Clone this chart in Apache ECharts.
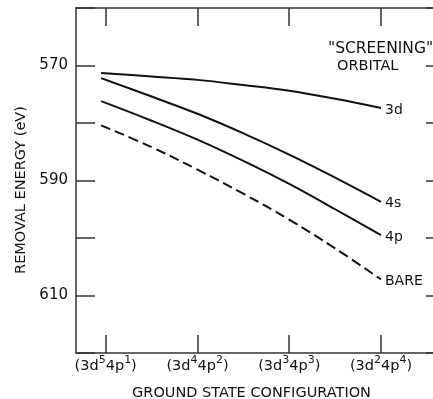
<!DOCTYPE html>
<html>
<head>
<meta charset="utf-8">
<script src="https://cdn.jsdelivr.net/npm/echarts@6/dist/echarts.min.js"></script>
<style>
html,body{margin:0;padding:0;background:#fff;}
#c{width:433px;height:399px;}
</style>
</head>
<body>
<div id="c"></div>
<script>
// Category positions (configurations) and tick labels
var configPositions = [1, 2, 3, 4];
var configLabels = ['(3d{s|5}4p{s|1})', '(3d{s|4}4p{s|2})', '(3d{s|3}4p{s|3})', '(3d{s|2}4p{s|4})'];
var yLabelValues = [570, 590, 610];

// Removal energy (eV): [configuration position, energy]
var series3d   = [[0.95, 571.3], [1.5, 571.9], [2, 572.5], [2.5, 573.4], [3, 574.4], [3.5, 575.8], [4, 577.4]];
var series4s   = [[0.95, 572.2], [1.5, 575.4], [2, 578.4], [2.5, 581.8], [3, 585.5], [3.5, 589.5], [4, 593.7]];
var series4p   = [[0.95, 576.2], [1.5, 579.6], [2, 582.9], [2.5, 586.6], [3, 590.6], [3.5, 595.0], [4, 599.5]];
var seriesBare = [[0.95, 580.4], [1.5, 584.2], [2, 588.1], [2.5, 592.3], [3, 596.8], [3.5, 601.8], [4, 607.2]];

var FONT = 'DejaVu Sans';
var INK = '#111';
var AX = '#333';

function lineSeries(name, data, dashed) {
  return {
    name: name,
    type: 'line',
    data: data,
    smooth: 0.4,
    symbol: 'none',
    silent: true,
    lineStyle: { color: INK, width: 2, type: dashed ? [10, 5] : 'solid' },
    endLabel: {
      show: true,
      formatter: name,
      color: INK,
      fontFamily: FONT,
      fontSize: 14,
      distance: 4,
      offset: [0, 2]
    }
  };
}

var chart = echarts.init(document.getElementById('c'), null, { renderer: 'canvas' });
chart.setOption({
  animation: false,
  backgroundColor: '#fff',
  grid: { left: 76, right: -11, top: 8, bottom: 46, outerBoundsMode: 'none' },
  xAxis: [
    {
      type: 'value', position: 'bottom', min: 0.6764, max: 4.6865,
      axisLine: { show: true, lineStyle: { color: AX, width: 1.5 } },
      axisTick: { show: true, inside: true, length: 18, customValues: configPositions, lineStyle: { color: AX, width: 1.5 } },
      axisLabel: {
        show: true, customValues: configPositions, margin: 2,
        color: INK, fontFamily: FONT, fontSize: 14.5, lineHeight: 22,
        formatter: function (v) { return configLabels[configPositions.indexOf(Math.round(v))] || ''; },
        rich: { s: { fontFamily: FONT, fontSize: 11, lineHeight: 11, verticalAlign: 'top', color: INK } }
      },
      splitLine: { show: false }
    },
    {
      type: 'value', position: 'top', min: 0.6764, max: 4.6865,
      axisLine: { show: true, lineStyle: { color: AX, width: 1.5 } },
      axisTick: { show: true, inside: true, length: 18, customValues: configPositions, lineStyle: { color: AX, width: 1.5 } },
      axisLabel: { show: false },
      splitLine: { show: false }
    }
  ],
  yAxis: [
    {
      type: 'value', position: 'left', min: 560, max: 620, interval: 10, inverse: true,
      axisLine: { show: true, lineStyle: { color: AX, width: 1.5 } },
      axisTick: { show: true, inside: true, length: 19, lineStyle: { color: AX, width: 1.5 } },
      axisLabel: {
        margin: 8, color: INK, fontFamily: FONT, fontSize: 15,
        formatter: function (v) { return yLabelValues.indexOf(v) >= 0 ? String(v) : ''; }
      },
      splitLine: { show: false }
    },
    {
      type: 'value', position: 'right', min: 560, max: 620, interval: 10, inverse: true,
      axisLine: { show: false },
      axisTick: { show: true, inside: true, length: 18, lineStyle: { color: AX, width: 1.5 } },
      axisLabel: { show: false },
      splitLine: { show: false }
    }
  ],
  series: [
    lineSeries('3d', series3d, false),
    lineSeries('4s', series4s, false),
    lineSeries('4p', series4p, false),
    lineSeries('BARE', seriesBare, true)
  ],
  graphic: [
    { type: 'text', x: 21, y: 190, rotation: Math.PI / 2,
      style: { text: 'REMOVAL ENERGY (eV)', fill: INK, font: '14.5px "DejaVu Sans"', align: 'center', verticalAlign: 'middle' } },
    { type: 'text', x: 251.5, y: 393,
      style: { text: 'GROUND STATE CONFIGURATION', fill: INK, font: '14.5px "DejaVu Sans"', align: 'center', verticalAlign: 'middle' } },
    { type: 'text', x: 328, y: 49,
      style: { text: '"SCREENING"', fill: INK, font: '15.5px "DejaVu Sans"', align: 'left', verticalAlign: 'middle' } },
    { type: 'text', x: 337, y: 66,
      style: { text: 'ORBITAL', fill: INK, font: '14.5px "DejaVu Sans"', align: 'left', verticalAlign: 'middle' } }
  ]
});
</script>
</body>
</html>
